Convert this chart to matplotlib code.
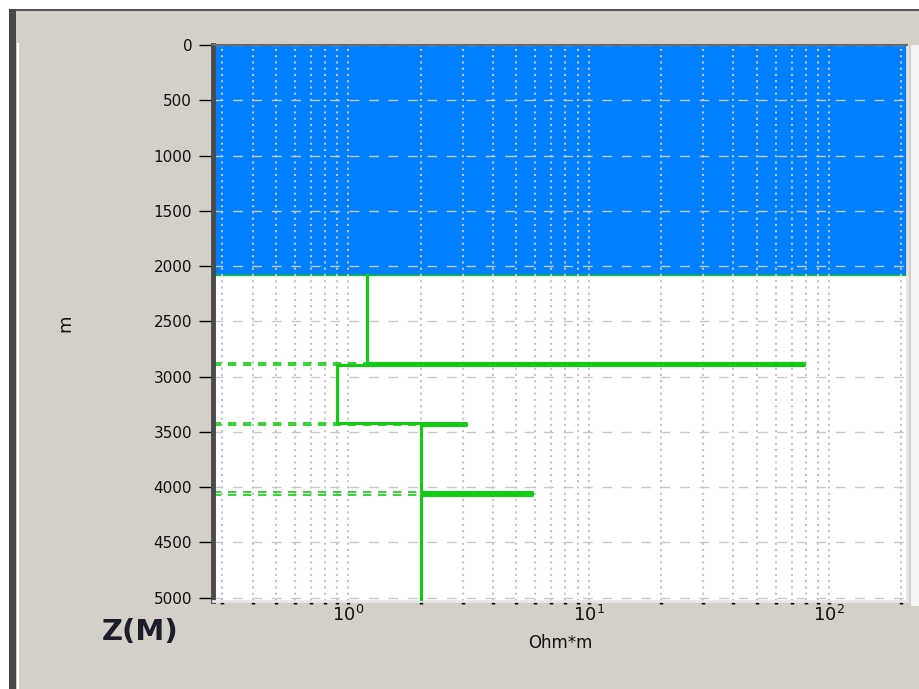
import matplotlib.pyplot as plt
import matplotlib.patches as patches
from matplotlib.ticker import LogLocator, FixedLocator, NullFormatter

# resistivity log (Ohm*m) as layer tops in metres
layer_top = [2080, 2873, 2897, 3418, 3442, 4044, 4074]
layer_res = [1.20, 78.7, 0.897, 3.09, 2.01, 5.80, 2.01]
z_bottom = 5030
water_depth = 2080
depth_ticks = [0, 500, 1000, 1500, 2000, 2500, 3000, 3500, 4000, 4500, 5000]

bg = "#d4d0c8"
green = "#11cc11"

fig = plt.figure(figsize=(9.19, 6.89), dpi=100, facecolor=bg)
W, H = 919, 689

# window chrome around the plot
fig.patches.append(patches.Rectangle((0, 1 - 9 / H), 1, 9 / H, transform=fig.transFigure,
                                     facecolor="white", edgecolor="none", zorder=0))
fig.patches.append(patches.Rectangle((0, 1 - 11 / H), 1, 2 / H, transform=fig.transFigure,
                                     facecolor="#555555", edgecolor="none", zorder=0))
fig.patches.append(patches.Rectangle((0, 0), 9 / W, 1, transform=fig.transFigure,
                                     facecolor="white", edgecolor="none", zorder=0))
fig.patches.append(patches.Rectangle((9 / W, 0), 7 / W, 1 - 9 / H, transform=fig.transFigure,
                                     facecolor="#474747", edgecolor="none", zorder=0))
fig.patches.append(patches.Rectangle((17 / W, 0), 2 / W, 1 - 43 / H, transform=fig.transFigure,
                                     facecolor="white", edgecolor="none", zorder=0))
fig.patches.append(patches.Rectangle((911 / W, 0.12), 8 / W, 1 - 45 / H - 0.12,
                                     transform=fig.transFigure,
                                     facecolor="#f4f4f4", edgecolor="none", zorder=0))

ax = fig.add_axes([213 / W, (H - 601) / H, (907 - 213) / W, (601 - 45) / H])
ax.set_facecolor("white")
ax.set_xscale("log")
ax.set_xlim(0.274, 211)
ax.set_ylim(z_bottom, 0)

# sea water column
ax.axhspan(0, water_depth, facecolor="#0080ff", edgecolor="none", zorder=0.1)
ax.axhline(water_depth, color=green, lw=1, zorder=0.2)

# step profile of resistivity versus depth
xs, ys = [], []
for i, (top, res) in enumerate(zip(layer_top, layer_res)):
    bot = layer_top[i + 1] if i + 1 < len(layer_top) else z_bottom
    xs += [res, res]
    ys += [top, bot]
ax.plot(xs, ys, color=green, lw=2.2, zorder=3)

# dashed boundary markers on the left for the thin layers
x_left = ax.get_xlim()[0]
for i in range(1, len(layer_top)):
    reach = min(layer_res[i - 1], layer_res[i])
    ax.plot([x_left, reach], [layer_top[i], layer_top[i]], color=green, lw=1.2,
            ls=(0, (5, 4)), zorder=2.5)

# grid: dotted verticals on every log tick, dashed horizontals
ax.set_axisbelow(True)
ax.xaxis.set_major_locator(LogLocator(base=10))
ax.xaxis.set_minor_locator(LogLocator(base=10, subs=range(2, 10)))
ax.xaxis.set_minor_formatter(NullFormatter())
ax.grid(True, axis="x", which="both", color="#c4c4c4", lw=1.5, ls=(0, (1, 2)))
ax.yaxis.set_major_locator(FixedLocator(depth_ticks))
ax.grid(True, axis="y", which="major", color="#c8c8c8", lw=1, ls=(0, (7, 7)))

ax.tick_params(axis="x", which="both", direction="out", length=2, width=2.5,
               color="black", pad=1, labelsize=13, labelcolor="#111111")
ax.tick_params(axis="y", direction="out", length=10, width=1, color="black",
               pad=5, labelsize=11, labelcolor="#111111")

for side, col, lw in [("left", "#4a4a4a", 3.5), ("top", "#6a6a6a", 1.5),
                      ("right", "#e6e6e6", 2), ("bottom", "#e6e6e6", 2)]:
    ax.spines[side].set_color(col)
    ax.spines[side].set_linewidth(lw)

ax.set_xlabel("Ohm*m", fontsize=12, labelpad=6, color="#111111")
ax.set_ylabel("m", fontsize=13, color="#111111")
ax.yaxis.set_label_coords(-0.2, 0.5)

fig.text(140 / W, 1 - 632 / H, "Z(M)", fontsize=21, fontweight="bold",
         color="#1c1c2c", ha="center", va="center")

fig.savefig("out.png", dpi=100, facecolor=bg)
